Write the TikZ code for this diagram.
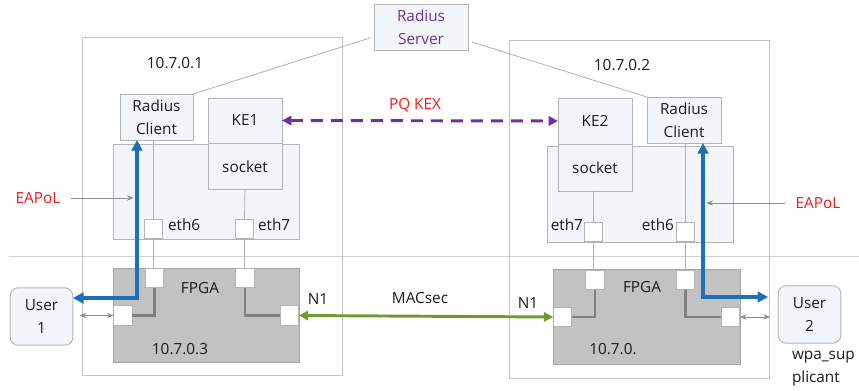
\documentclass[tikz,border=0pt]{standalone}
\usepackage{fontspec}
\setmainfont{Open Sans}
\usetikzlibrary{arrows.meta}
\definecolor{bordergray}{HTML}{B4B4B4}
\definecolor{outergray}{HTML}{C4C4C4}
\definecolor{panelfill}{HTML}{F3F6F9}
\definecolor{fpgafill}{HTML}{C2C2C2}
\definecolor{fpgaborder}{HTML}{A6A6A6}
\definecolor{darkline}{HTML}{808080}
\definecolor{thin}{HTML}{B0B0B0}
\definecolor{bluearrow}{HTML}{1C6FBA}
\definecolor{greenarrow}{HTML}{6E9A2E}
\definecolor{purplec}{HTML}{7030A0}
\definecolor{redc}{HTML}{EE1C1C}
\definecolor{textc}{HTML}{1A1A1A}
\begin{document}
\begin{tikzpicture}[x=0.75pt,y=-0.75pt,
  every node/.style={font=\fontsize{11.5}{17}\selectfont, text=textc, inner sep=0pt, outer sep=0pt},
  outerbox/.style={draw=outergray, line width=0.7pt, minimum width=195pt, minimum height=253.5pt},
  panel/.style={draw=bordergray, fill=panelfill, line width=0.7pt},
  boxx/.style={draw=bordergray, fill=panelfill, line width=0.7pt, align=center},
  fpga/.style={draw=fpgaborder, fill=fpgafill, line width=0.7pt},
  port/.style={draw=bordergray, fill=white, line width=0.6pt, minimum width=14pt, minimum height=14.5pt},
  userbox/.style={draw=bordergray, fill=panelfill, line width=0.7pt, rounded corners=6pt, minimum width=47pt, minimum height=43pt, align=center},
  thinline/.style={draw=thin, line width=0.6pt},
  darkl/.style={draw=darkline, line width=2.2pt},
  bluel/.style={draw=bluearrow, line width=2.6pt, {Triangle[length=8pt,width=8pt]}-{Triangle[length=8pt,width=8pt]}},
  grayarr/.style={draw=darkline!90, line width=0.6pt, {Stealth[length=5pt,width=4pt]}-{Stealth[length=5pt,width=4pt]}},
  eaparr/.style={draw=darkline!90, line width=0.6pt, -{Stealth[length=5pt,width=4pt]}},
  lbl/.style={text=redc}
]
\useasboundingbox (0,0) rectangle (859,391);
% separator line
\draw[draw=outergray!80, line width=0.7pt] (9,256) -- (859,256);
% outer boxes
\node[outerbox] (outerL) at (212,206) {};
\node[outerbox] (outerR) at (639,209) {};
% radius server
\node[boxx, minimum width=70.5pt, minimum height=34.5pt, text=purplec] (RS) at (421,27) {Radius\\Server};
% left inner panel and boxes
\node[panel, minimum width=139.5pt, minimum height=71.25pt] (panelL) at (206,191.5) {};
\node[boxx, minimum width=54.75pt, minimum height=34.5pt] (rcL) at (156.5,117) {Radius\\Client};
\node[boxx, minimum width=55.5pt, minimum height=33.75pt] (ke1) at (245,120.5) {KE1};
\node[boxx, minimum width=55.5pt, minimum height=34.5pt] (sock1) at (245,166.5) {socket};
\node[port] (e6L) at (153.5,229) {};
\node[port] (e7L) at (244.5,229) {};
\node[anchor=west] (e6Llbl) at (168,225) {eth6};
\node[anchor=west] (e7Llbl) at (258,225) {eth7};
% left FPGA
\node[fpga, minimum width=139.5pt, minimum height=70.5pt] (fpgaL) at (206,315) {};
\node (fpgaLlbl) at (200,288) {FPGA};
\node (ipL) at (180,349) {10.7.0.3};
\node[port] (pTL1) at (154.5,278) {};
\node[port] (pTR1) at (245,278) {};
\node[port] (pLL) at (123,315.5) {};
\node[port] (pN1L) at (289.5,315.5) {};
\node (n1L) at (318,299) {N1};
\node[userbox] (user1) at (41.5,316.5) {User\\1};
\node (ip1) at (175,63) {10.7.0.1};
% right inner panel and boxes
\node[panel, minimum width=139.5pt, minimum height=72pt] (panelR) at (640,194) {};
\node[boxx, minimum width=55.5pt, minimum height=34.5pt] (ke2) at (595,121) {KE2};
\node[boxx, minimum width=55.5pt, minimum height=35.25pt] (sock2) at (595,167.5) {socket};
\node[boxx, minimum width=55.5pt, minimum height=34.5pt] (rcR) at (684,120) {Radius\\Client};
\node[port] (e7R) at (593.5,232) {};
\node[port] (e6R) at (685.5,232) {};
\node[anchor=east] (e7Rlbl) at (583,225) {eth7};
\node[anchor=east] (e6Rlbl) at (674,225) {eth6};
% right FPGA
\node[fpga, minimum width=140.25pt, minimum height=71.25pt] (fpgaR) at (646.5,316.5) {};
\node (fpgaRlbl) at (642,287) {FPGA};
\node (ipR) at (613,349) {10.7.0.};
\node[port] (pTL2) at (595,280) {};
\node[port] (pTR2) at (685.5,280) {};
\node[port] (pN1R) at (562.5,317) {};
\node[port] (pRR) at (730.5,317) {};
\node (n1R) at (528,303) {N1};
\node[userbox] (user2) at (809.5,314.5) {User\\2};
\node (ip2) at (622,65) {10.7.0.2};
\node[anchor=north west, align=left] (wpa) at (792,351) {wpa\_sup\\plicant};
% radius server links
\coordinate (rsA) at (370,38);
\coordinate (rsB) at (472,42);
\draw[thinline] (rsA) -- (rcL.north east);
\draw[thinline] (rsB) -- (rcR.north west);
% thin vertical links left
\draw[thinline] (rcL.south -| e6L) -- (e6L.north);
\draw[thinline] (e6L.south) -- (pTL1.north -| e6L);
\draw[thinline] (sock1.south) -- (e7L.north);
\draw[thinline] (e7L.south) -- (pTR1.north -| e7L);
% thin vertical links right
\draw[thinline] (sock2.south -| e7R) -- (e7R.north);
\draw[thinline] (e7R.south) -- (pTL2.north -| e7R);
\draw[thinline] (rcR.south -| e6R) -- (e6R.north);
\draw[thinline] (e6R.south) -- (pTR2.north -| e6R);
% dark FPGA internal links
\draw[darkl] (pTL1.south) |- (pLL.east);
\draw[darkl] (pTR1.south) |- (pN1L.west);
\draw[darkl] (pTL2.south) |- (pN1R.east);
\draw[darkl] (pTR2.south) |- (pRR.west);
% blue EAPoL paths
\coordinate (bL) at (137,298);
\coordinate (bR) at (703,297);
\draw[bluel] (user1.east |- bL) -- (bL) -- (rcL.south -| bL);
\draw[bluel] (rcR.south -| bR) -- (bR) -- ([xshift=-7.5pt]user2.west |- bR);
% EAPoL labels
\node[lbl] (eapL) at (38,198) {EAPoL};
\node[lbl] (eapR) at (818,203) {EAPoL};
\draw[eaparr] ([xshift=8pt]eapL.east) -- ([xshift=-2.5pt]bL |- eapL.east);
\draw[eaparr] ([xshift=-8pt]eapR.west) -- ([xshift=2.5pt]bR |- eapR.west);
% user links
\draw[grayarr] ([xshift=5pt]user1.east |- pLL) -- (pLL.west);
\draw[grayarr] (pRR.east) -- ([xshift=-6pt]user2.west |- pRR);
% PQ KEX
\draw[draw=purplec, line width=2.2pt, dash pattern=on 9pt off 6pt, {Triangle[length=7pt,width=7pt]}-{Triangle[length=7pt,width=7pt]}] (ke1.east) -- (ke2.west);
\node[lbl] (pqkex) at (415,105) {PQ KEX};
% MACsec
\draw[draw=greenarrow, line width=2.2pt, {Triangle[length=7pt,width=7pt]}-{Triangle[length=7pt,width=7pt]}] (pN1L.east) -- (pN1R.west);
\node (macsec) at (420,298) {MACsec};
\end{tikzpicture}
\end{document}
